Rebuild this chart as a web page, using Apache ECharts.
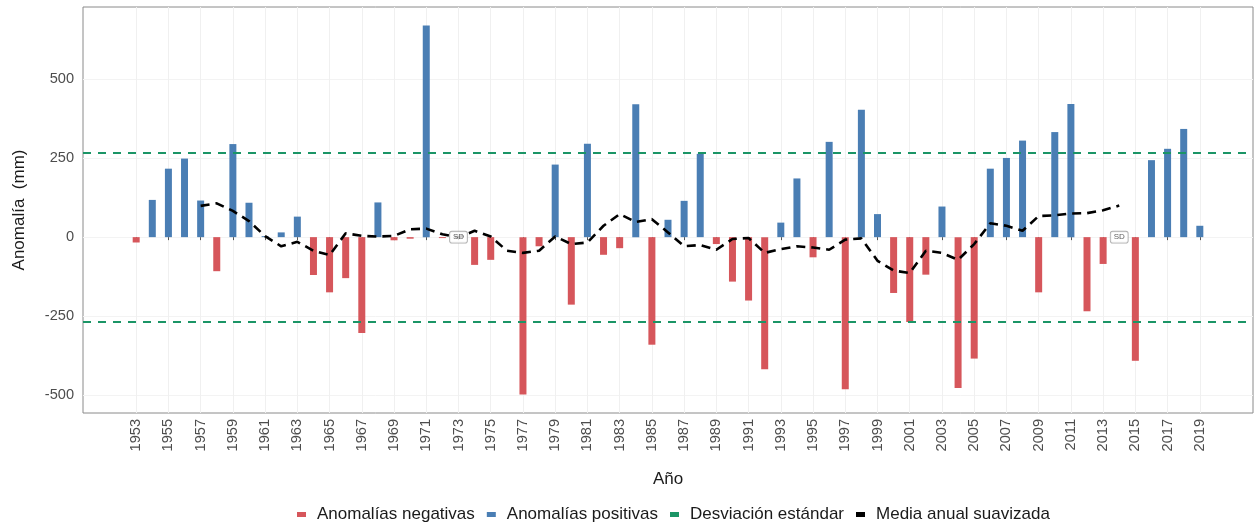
<!DOCTYPE html>
<html>
<head>
<meta charset="utf-8">
<script src="https://cdn.jsdelivr.net/npm/echarts@6/dist/echarts.min.js"></script>
<style>
html,body{margin:0;padding:0;background:#fff;}
#chart{width:1254px;height:527px;}
</style>
</head>
<body>
<div id="chart"></div>
<script>
// ---- data ----
const years = [1953,1954,1955,1956,1957,1958,1959,1960,1961,1962,1963,1964,1965,1966,1967,1968,1969,1970,
  1971,1972,1973,1974,1975,1976,1977,1978,1979,1980,1981,1982,1983,1984,1985,1986,1987,1988,1989,1990,
  1991,1992,1993,1994,1995,1996,1997,1998,1999,2000,2001,2002,2003,2004,2005,2006,2007,2008,2009,2010,
  2011,2012,2013,2014,2015,2016,2017,2018,2019];
const anomalies = [-17,118,217,249,116,-108,295,109,3,15,65,-120,-175,-130,-304,110,-10,-5,
  671,-3,0,-88,-72,0,-499,-29,230,-214,296,-56,-35,421,-341,55,115,264,-22,-141,
  -201,-419,46,186,-64,302,-482,404,73,-177,-269,-119,97,-478,-385,217,251,306,-175,333,
  422,-235,-85,0,-392,244,280,343,36];
const smoothYears = [1957,1958,1959,1960,1961,1962,1963,1964,1965,1966,1967,1968,1969,1970,1971,1972,1973,
  1974,1975,1976,1977,1978,1979,1980,1981,1982,1983,1984,1985,1986,1987,1988,1989,1990,1991,1992,1993,
  1994,1995,1996,1997,1998,1999,2000,2001,2002,2003,2004,2005,2006,2007,2008,2009,2010,2011,2012,2013,2014];
const smoothValues = [99,107,83,51,3,-29,-15,-43,-57,12,4,2,4,25,27,9,-1,
  20,2,-43,-50,-43,2,-22,-17,36,73,48,57,15,-29,-25,-40,-6,-3,-50,-38,
  -29,-33,-40,-8,-4,-75,-106,-114,-43,-50,-72,-22,44,36,20,67,69,75,76,85,100];
const sdValue = 268;
const sdLabelYears = [1973, 2014];
const xTickLabels = [1953,1955,1957,1959,1961,1963,1965,1967,1969,1971,1973,1975,1977,1979,1981,1983,1985,
  1987,1989,1991,1993,1995,1997,1999,2001,2003,2005,2007,2009,2011,2013,2015,2017,2019];
const yTickLabels = [-500,-250,0,250,500];
const seriesNames = ['Anomalías negativas','Anomalías positivas','Desviación estándar','Media anual suavizada'];

// ---- build ----
const negData = years.map((y,i)=>[y, anomalies[i] < 0 ? anomalies[i] : null]);
const posData = years.map((y,i)=>[y, anomalies[i] > 0 ? anomalies[i] : null]);
const smoothData = smoothYears.map((y,i)=>[y, smoothValues[i]]);
const sdLabelData = sdLabelYears.map(y=>[y,0]);

const FONT = '"Liberation Sans", Arial, Helvetica, sans-serif';
const RED = '#d6565b', BLUE = '#4a7eb4', GREEN = '#1b9566';

const chart = echarts.init(document.getElementById('chart'), null, {renderer:'canvas'});
chart.setOption({
  animation:false,
  textStyle:{fontFamily:FONT},
  grid:{left:83, right:1, top:7, bottom:114, show:true, borderColor:'#8a8a8a', borderWidth:1, backgroundColor:'transparent'},
  legend:{
    data:seriesNames, left:292, top:501, icon:'rect', itemWidth:9, itemHeight:5, itemGap:12,
    textStyle:{fontSize:17, color:'#1a1a1a', fontFamily:FONT, padding:[0,0,0,6]}
  },
  xAxis:{
    type:'value', min:1949.7, max:2022.3,
    name:'Año', nameLocation:'middle', nameGap:58,
    nameTextStyle:{fontSize:17, color:'#1a1a1a', fontFamily:FONT},
    axisLine:{show:false},
    axisTick:{show:true, length:3, lineStyle:{color:'#555'}, customValues:xTickLabels},
    axisLabel:{rotate:90, margin:6, fontSize:14.6, color:'#4d4d4d', fontFamily:FONT, customValues:xTickLabels,
      formatter:v=>String(v)},
    splitLine:{show:true, lineStyle:{color:'#f0f0f0', width:1}}
  },
  yAxis:{
    type:'value', min:-557.5, max:729.5,
    name:'Anomalía  (mm)', nameLocation:'middle', nameGap:55,
    nameTextStyle:{fontSize:17, color:'#1a1a1a', fontFamily:FONT},
    axisLine:{show:false},
    axisTick:{show:false, customValues:yTickLabels},
    axisLabel:{margin:9, fontSize:14.6, color:'#4d4d4d', fontFamily:FONT, customValues:yTickLabels,
      formatter:v=>String(v)},
    splitLine:{show:true, lineStyle:{color:'#f3f3f3', width:1}}
  },
  series:[
    {name:seriesNames[0], type:'bar', data:negData, barWidth:7, barGap:'-100%', itemStyle:{color:RED}},
    {name:seriesNames[1], type:'bar', data:posData, barWidth:7, barGap:'-100%', itemStyle:{color:BLUE}},
    {name:seriesNames[2], type:'line', data:[], itemStyle:{color:GREEN}, lineStyle:{color:GREEN},
      markLine:{silent:true, symbol:'none', label:{show:false},
        lineStyle:{color:GREEN, type:[8,7], width:1.8, opacity:1},
        data:[{yAxis:sdValue},{yAxis:-sdValue}]}},
    {name:seriesNames[3], type:'line', data:smoothData, showSymbol:false, symbol:'none', z:5,
      itemStyle:{color:'#000'}, lineStyle:{color:'#000', width:2.6, type:[9,6]}},
    {name:'sd', type:'scatter', data:sdLabelData, symbolSize:0, z:6, silent:true,
      label:{show:true, position:'inside', formatter:'SD', fontSize:8, color:'#333', fontFamily:FONT,
        backgroundColor:'#fff', borderColor:'#999', borderWidth:0.8, borderRadius:2, padding:[2,3,1,3]}}
  ]
});
</script>
</body>
</html>
